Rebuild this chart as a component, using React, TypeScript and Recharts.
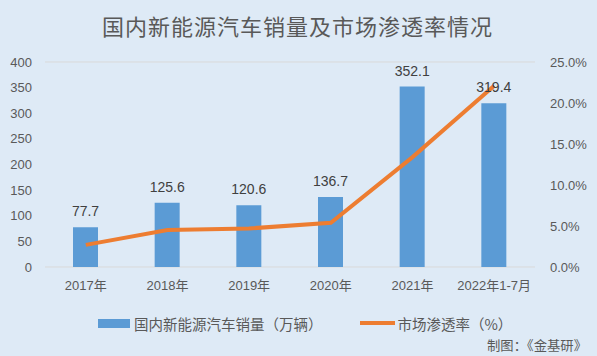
import React from 'react';
import { ComposedChart, Bar, Line, XAxis, YAxis, CartesianGrid, LabelList } from 'recharts';

const categories = ['2017年', '2018年', '2019年', '2020年', '2021年', '2022年1-7月'];
const sales = [77.7, 125.6, 120.6, 136.7, 352.1, 319.4];
const penetration = [2.7, 4.5, 4.7, 5.4, 13.4, 22.1];
const leftTicks = [0, 50, 100, 150, 200, 250, 300, 350, 400];
const rightTicks = [0, 5, 10, 15, 20, 25];

const data = categories.map((c, i) => ({ name: c, sales: sales[i], rate: penetration[i] }));

const FONT = "'Liberation Sans', 'Noto Sans CJK SC', sans-serif";
const CJK = "'Noto Sans CJK SC', sans-serif";
const TXT = '#595959';

export default function App() {
  return (
    <div style={{ position: 'absolute', left: 0, top: 0, width: 597, height: 356, background: '#DEEAF6', fontFamily: FONT, overflow: 'hidden' }}>
      <ComposedChart width={597} height={356} data={data} margin={{ top: 62, right: 0, left: 0, bottom: 59 }} style={{ position: 'absolute', left: 0, top: 0 }}>
        <CartesianGrid horizontal vertical={false} stroke="#D9D9D9" strokeWidth={1} />
        <XAxis dataKey="name" axisLine={false} tickLine={false} height={30} tickMargin={8} tick={{ fill: TXT, fontSize: 13, fontFamily: FONT }} interval={0} />
        <YAxis yAxisId="left" orientation="left" width={45} domain={[0, 400]} ticks={leftTicks} axisLine={false} tickLine={false} tickMargin={7} tick={{ fill: TXT, fontSize: 13, fontFamily: FONT }} />
        <YAxis yAxisId="right" orientation="right" width={62} domain={[0, 25]} ticks={rightTicks} axisLine={false} tickLine={false} tickMargin={9} tickFormatter={(v: number) => v.toFixed(1) + '%'} tick={{ fill: TXT, fontSize: 13, fontFamily: FONT }} />
        <Bar yAxisId="left" dataKey="sales" fill="#5B9BD5" barSize={25} isAnimationActive={false}>
          <LabelList dataKey="sales" position="top" offset={11} fill="#404040" fontSize={14} fontFamily={FONT} formatter={(v: number) => v.toFixed(1)} />
        </Bar>
        <Line yAxisId="right" type="linear" dataKey="rate" stroke="#ED7D31" strokeWidth={4} dot={false} activeDot={false} isAnimationActive={false} />
        <text x={102} y={35} fontSize={22} fill={TXT} fontFamily={CJK} textLength={390} lengthAdjust="spacing">
          国内新能源汽车销量及市场渗透率情况
        </text>
        <text x={487} y={350} fontSize={13} fill={TXT} fontFamily={CJK} textLength={100} lengthAdjust="spacingAndGlyphs">
          制图：《金基研》
        </text>
      </ComposedChart>
      <div style={{ position: 'absolute', top: 312, left: 98, height: 22, display: 'flex', alignItems: 'center', fontSize: 14.5, color: TXT, fontFamily: CJK, whiteSpace: 'nowrap' }}>
        <span style={{ display: 'inline-block', width: 32, height: 9, background: '#5B9BD5', marginRight: 4 }} />
        <span>国内新能源汽车销量（万辆）</span>
        <span style={{ display: 'inline-block', width: 35, height: 4, background: '#ED7D31', marginLeft: 37, marginRight: 3 }} />
        <span>市场渗透率（%）</span>
      </div>
    </div>
  );
}
